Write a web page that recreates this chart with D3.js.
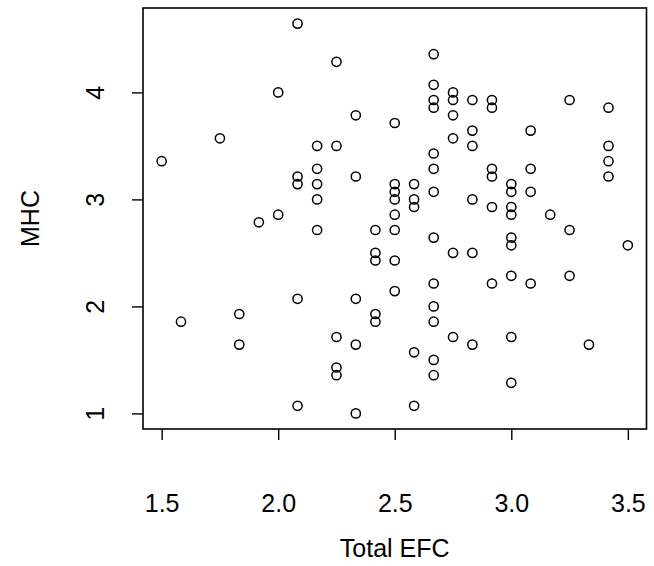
<!DOCTYPE html>
<html>
<head>
<meta charset="utf-8">
<script src="https://cdn.jsdelivr.net/npm/d3@7"></script>
<style>
  body { margin: 0; background: #fff; }
  svg { display: block; }
  text { font-family: "Liberation Sans", Arial, sans-serif; fill: #000; }
</style>
</head>
<body>
<div id="chart"></div>
<script>
// Total EFC (x) and MHC (y)
const efc = [
  2.083, 2.0, 1.75, 1.5, 2.083, 2.083, 2.0, 1.917, 2.25, 2.667,
  2.667, 2.667, 2.667, 2.75, 2.75, 2.833, 2.333, 2.5, 2.75, 2.833,
  2.75, 2.833, 2.167, 2.25, 2.667, 2.667, 2.167, 2.167, 2.333, 2.5,
  2.5, 2.5, 2.5, 2.583, 2.583, 2.583, 2.667, 2.167, 2.833, 2.917,
  2.917, 3.25, 3.417, 3.083, 3.417, 3.417, 3.417, 2.917, 2.917, 3.083,
  3.0, 3.0, 3.083, 2.917, 3.0, 3.0, 3.167, 2.083, 1.833, 1.583,
  1.833, 2.083, 2.167, 2.417, 2.5, 2.667, 2.417, 2.417, 2.5, 2.75,
  2.833, 2.333, 2.5, 2.667, 2.667, 2.667, 2.417, 2.417, 2.25, 2.333,
  2.583, 2.667, 2.667, 2.75, 2.833, 2.25, 2.25, 2.333, 2.583, 3.25,
  3.0, 3.0, 3.5, 3.0, 2.917, 3.083, 3.25, 3.0, 3.333, 3.0
];
const mhc = [
  4.643, 4.0, 3.571, 3.357, 3.214, 3.143, 2.857, 2.786, 4.286, 4.357,
  4.071, 3.929, 3.857, 4.0, 3.929, 3.929, 3.786, 3.714, 3.786, 3.643,
  3.571, 3.5, 3.5, 3.5, 3.429, 3.286, 3.286, 3.143, 3.214, 3.143,
  3.071, 3.0, 2.857, 3.143, 3.0, 2.929, 3.071, 3.0, 3.0, 3.929,
  3.857, 3.929, 3.857, 3.643, 3.5, 3.357, 3.214, 3.286, 3.214, 3.286,
  3.143, 3.071, 3.071, 2.929, 2.929, 2.857, 2.857, 2.071, 1.929, 1.857,
  1.643, 1.071, 2.714, 2.714, 2.714, 2.643, 2.5, 2.429, 2.429, 2.5,
  2.5, 2.071, 2.143, 2.214, 2.0, 1.857, 1.929, 1.857, 1.714, 1.643,
  1.571, 1.5, 1.357, 1.714, 1.643, 1.429, 1.357, 1.0, 1.071, 2.714,
  2.643, 2.571, 2.571, 2.286, 2.214, 2.214, 2.286, 1.714, 1.643, 1.286
];
const xTicks = [1.5, 2.0, 2.5, 3.0, 3.5];
const yTicks = [1, 2, 3, 4];

const W = 654, H = 566;
const box = {left: 143, right: 646.5, top: 8, bottom: 429};
const fontPx = 25;

const svg = d3.select("#chart")
  .append("svg")
    .attr("width", W)
    .attr("height", H);

// R style: data range padded by 4% each side
const xExt = d3.extent(efc), yExt = d3.extent(mhc);
const xPad = (xExt[1] - xExt[0]) * 0.04, yPad = (yExt[1] - yExt[0]) * 0.04;

const x = d3.scaleLinear()
  .domain([xExt[0] - xPad, xExt[1] + xPad])
  .range([box.left, box.right]);
const y = d3.scaleLinear()
  .domain([yExt[0] - yPad, yExt[1] + yPad])
  .range([box.bottom, box.top]);

// x axis
const gx = svg.append("g")
  .attr("transform", `translate(0,${box.bottom})`)
  .call(d3.axisBottom(x).tickValues(xTicks).tickFormat(d3.format(".1f"))
    .tickSize(11).tickPadding(54).tickSizeOuter(0));
gx.select(".domain").remove();
gx.selectAll("line").attr("stroke", "#000").attr("stroke-width", 1.4);
gx.selectAll("text").style("font-size", fontPx + "px").attr("fill", "#000");

// y axis, labels turned like R
const gy = svg.append("g")
  .attr("transform", `translate(${box.left},0)`)
  .call(d3.axisLeft(y).tickValues(yTicks).tickFormat(d3.format("d"))
    .tickSize(11).tickSizeOuter(0));
gy.select(".domain").remove();
gy.selectAll("line").attr("stroke", "#000").attr("stroke-width", 1.4);
gy.selectAll("text")
  .style("font-size", fontPx + "px")
  .attr("fill", "#000")
  .attr("text-anchor", "middle")
  .attr("transform", "rotate(-90)")
  .attr("x", 0)
  .attr("y", -39)
  .attr("dy", null);

// plot box
svg.append("rect")
  .attr("x", box.left)
  .attr("y", box.top)
  .attr("width", box.right - box.left)
  .attr("height", box.bottom - box.top)
  .attr("fill", "none")
  .attr("stroke", "#000")
  .attr("stroke-width", 1.6);

// points
svg.append("g")
  .selectAll("circle")
  .data(efc.map((d, i) => [d, mhc[i]]))
  .join("circle")
    .attr("cx", d => x(d[0]))
    .attr("cy", d => y(d[1]))
    .attr("r", 4.6)
    .attr("fill", "none")
    .attr("stroke", "#000")
    .attr("stroke-width", 1.5);

// axis titles
svg.append("text")
  .attr("x", (box.left + box.right) / 2)
  .attr("y", 557)
  .attr("text-anchor", "middle")
  .style("font-size", fontPx + "px")
  .text("Total EFC");

svg.append("text")
  .attr("transform", `translate(39,${(box.top + box.bottom) / 2}) rotate(-90)`)
  .attr("text-anchor", "middle")
  .style("font-size", fontPx + "px")
  .text("MHC");
</script>
</body>
</html>
